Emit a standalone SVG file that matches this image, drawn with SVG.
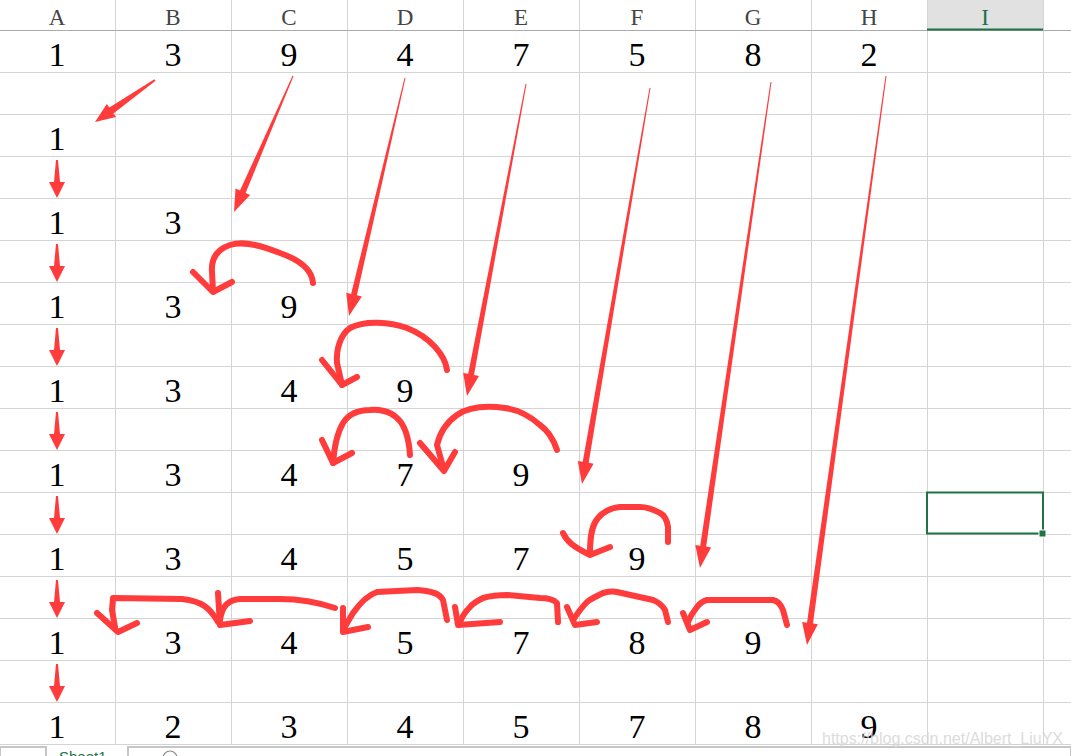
<svg xmlns="http://www.w3.org/2000/svg" xmlns:xlink="http://www.w3.org/1999/xlink" width="1071" height="756" viewBox="0 0 1071 756">
<style>
.grid{stroke:#d4d4d4;stroke-width:1;fill:none}
.hdr{font-family:"Liberation Serif","DejaVu Serif",serif;font-size:23px;fill:#444;text-anchor:middle}
.num{font-family:"Liberation Serif","DejaVu Serif",serif;font-size:34px;fill:#000;text-anchor:middle}
.red{fill:#ff3b3b}
.hand{fill:none;stroke:#ff3b3b;stroke-width:6;stroke-linecap:round;stroke-linejoin:round}
</style>
<defs>
<path id="da" d="M-1,0 L1,0 L3,22 L8,22 L0,38 L-8,22 L-3,22 Z"/>
</defs>
<rect width="1071" height="756" fill="#ffffff"/>
<g id="header">
<rect x="927" y="0" width="116" height="30" fill="#e1e1e1"/>
<text class="hdr" x="57" y="25">A</text>
<text class="hdr" x="173" y="25">B</text>
<text class="hdr" x="289" y="25">C</text>
<text class="hdr" x="405" y="25">D</text>
<text class="hdr" x="521" y="25">E</text>
<text class="hdr" x="637" y="25">F</text>
<text class="hdr" x="753" y="25">G</text>
<text class="hdr" x="869" y="25">H</text>
<text class="hdr" x="985" y="25" style="fill:#217346">I</text>
</g>
<g id="gridlines">
<path class="grid" d="M115.5,0V744M231.5,0V744M347.5,0V744M463.5,0V744M579.5,0V744M695.5,0V744M811.5,0V744M927.5,0V744M1043.5,0V744"/>
<path class="grid" d="M0,72.5H1071M0,114.5H1071M0,156.5H1071M0,198.5H1071M0,240.5H1071M0,282.5H1071M0,324.5H1071M0,366.5H1071M0,408.5H1071M0,450.5H1071M0,492.5H1071M0,534.5H1071M0,576.5H1071M0,618.5H1071M0,660.5H1071M0,702.5H1071M0,744.5H1071"/>
<path d="M0,30.5H1071" stroke="#ababab" stroke-width="1.2"/>
<path d="M927,29.5H1043" stroke="#217346" stroke-width="2"/>
</g>
<g id="row1">
<text class="num" x="57" y="66">1</text><text class="num" x="173" y="66">3</text><text class="num" x="289" y="66">9</text><text class="num" x="405" y="66">4</text><text class="num" x="521" y="66">7</text><text class="num" x="637" y="66">5</text><text class="num" x="753" y="66">8</text><text class="num" x="869" y="66">2</text>
</g>
<g id="row2"><text class="num" x="57" y="150">1</text></g>
<g id="row3"><text class="num" x="57" y="234">1</text><text class="num" x="173" y="234">3</text></g>
<g id="row4"><text class="num" x="57" y="318">1</text><text class="num" x="173" y="318">3</text><text class="num" x="289" y="318">9</text></g>
<g id="row5"><text class="num" x="57" y="402">1</text><text class="num" x="173" y="402">3</text><text class="num" x="289" y="402">4</text><text class="num" x="405" y="402">9</text></g>
<g id="row6"><text class="num" x="57" y="486">1</text><text class="num" x="173" y="486">3</text><text class="num" x="289" y="486">4</text><text class="num" x="405" y="486">7</text><text class="num" x="521" y="486">9</text></g>
<g id="row7"><text class="num" x="57" y="570">1</text><text class="num" x="173" y="570">3</text><text class="num" x="289" y="570">4</text><text class="num" x="405" y="570">5</text><text class="num" x="521" y="570">7</text><text class="num" x="637" y="570">9</text></g>
<g id="row8"><text class="num" x="57" y="654">1</text><text class="num" x="173" y="654">3</text><text class="num" x="289" y="654">4</text><text class="num" x="405" y="654">5</text><text class="num" x="521" y="654">7</text><text class="num" x="637" y="654">8</text><text class="num" x="753" y="654">9</text></g>
<g id="row9"><text class="num" x="57" y="738">1</text><text class="num" x="173" y="738">2</text><text class="num" x="289" y="738">3</text><text class="num" x="405" y="738">4</text><text class="num" x="521" y="738">5</text><text class="num" x="637" y="738">7</text><text class="num" x="753" y="738">8</text><text class="num" x="869" y="738">9</text></g>
<g id="selection">
<rect x="927" y="492.5" width="116" height="41" fill="none" stroke="#217346" stroke-width="2"/>
<rect x="1039" y="530" width="7" height="7" fill="#217346" stroke="#ffffff" stroke-width="1"/>
</g>
<g id="connectors">
<g class="red">
<polygon points="154.4,79.2 109.4,107.6 106.8,104.0 95,122 116.0,117.0 113.4,113.4 155.6,80.8"/>
<polygon points="292.5,75.8 240.0,190.6 235.5,188.6 234,212 250.1,195.0 245.6,193.0 293.5,76.2"/>
<polygon points="404.5,77.9 351.1,293.9 346.2,292.8 349,316 361.8,296.4 356.9,295.3 405.5,78.1"/>
<polygon points="525.5,83.9 468.2,373.8 463.2,372.9 467,396 479.0,375.9 474.0,375.0 526.5,84.1"/>
<polygon points="649.5,87.9 582.7,461.8 577.8,460.9 582,484 593.6,463.7 588.7,462.8 650.5,88.1"/>
<polygon points="770.5,81.9 700.2,545.8 695.3,545.0 700,568 711.1,547.4 706.2,546.6 771.5,82.1"/>
<polygon points="885.5,75.9 807.0,622.8 802.1,622.1 807,645 817.9,624.3 813.0,623.6 886.5,76.1"/>
<use xlink:href="#da" x="57" y="160"/>
<use xlink:href="#da" x="57" y="244"/>
<use xlink:href="#da" x="57" y="328"/>
<use xlink:href="#da" x="57" y="412"/>
<use xlink:href="#da" x="57" y="496"/>
<use xlink:href="#da" x="57" y="580"/>
<use xlink:href="#da" x="57" y="664"/>
</g>
<g class="hand">
<path d="M313,283 C312,270 300,260 280,253 C265,247 245,240 230,245 C218,249 211,258 212,272 L213,291"/>
<path d="M193,272 L213,292 L232,282"/>
<path d="M447,370 C445,355 430,337 407,328 C390,322 365,320 350,328 C340,335 336,350 337,363 L342,385"/>
<path d="M322,360 L342,385 L357,377"/>
<path d="M410,455 C409,440 405,425 397,418 C390,411 378,409 370,410 C360,410 350,412 343,423 C336,435 334,450 333,463"/>
<path d="M322,440 L333,463 L352,453"/>
<path d="M557,450 C553,438 547,430 540,425 C530,416 520,410 505,408 C490,406 470,406 457,415 C447,422 440,432 437,445 L444,470"/>
<path d="M420,443 L444,471 L455,452"/>
<path d="M668,542 L668,527 C667,520 664,515 660,513 C653,509 648,507 640,507 L620,507 C610,508 603,512 598,518 C592,525 590,535 590,553"/>
<path d="M563,533 C567,542 574,547 590,555 L610,547"/>
<path d="M218,622 C210,608 202,601 182,599 L113,598 L112,610 L115,627"/>
<path d="M97,613 L118,632 L137,623"/>
<path d="M335,608 C320,603 300,599 280,599 L240,599 C228,600 222,606 220,620"/>
<path d="M218,593 L220,625 L250,621"/>
<path d="M447,620 L443,600 C440,594 433,591 417,590 L377,592 C368,595 360,603 353,613 L343,630"/>
<path d="M343,608 L343,632 L368,627"/>
<path d="M558,622 L557,603 C553,599 548,598 540,598 L507,595 C497,595 490,596 483,598 C477,601 473,603 470,607 C465,612 462,617 460,622"/>
<path d="M455,607 L458,625 L500,622"/>
<path d="M668,622 L665,610 C662,605 658,602 653,600 L617,592 C612,591 607,592 603,593 C597,596 592,598 587,602 C581,608 577,614 573,620"/>
<path d="M567,607 L575,625 L597,622"/>
<path d="M787,625 L783,610 C781,605 778,601 773,600 L707,600 C703,601 700,603 697,607 C693,612 690,617 688,622"/>
<path d="M683,613 L690,630 L707,622"/>
</g>
</g>
<g id="tabs">
<rect x="0" y="746" width="1071" height="10" fill="#f3f3f3"/>
<path d="M0,746.5H1071" stroke="#c6c6c6" stroke-width="1"/>
<rect x="0.5" y="747.5" width="45" height="10" fill="#ffffff" stroke="#c6c6c6"/>
<rect x="47" y="746" width="80" height="10" fill="#ffffff"/>
<path d="M46.5,746V756M127.5,746V756" stroke="#c6c6c6"/>
<text x="59" y="762" style="font-family:'Liberation Sans',Arial,sans-serif;font-size:15px;fill:#217346">Sheet1</text>
<rect x="128.5" y="747.5" width="942" height="10" fill="#ffffff" stroke="#c6c6c6"/>
<circle cx="170" cy="758" r="7" fill="none" stroke="#888" stroke-width="1.2"/>
</g>
<text x="822" y="744" style="font-family:'Liberation Sans',Arial,sans-serif;font-size:16px;fill:#d6d6d6;opacity:0.85">https://blog.csdn.net/Albert_LiuYX</text>
</svg>
